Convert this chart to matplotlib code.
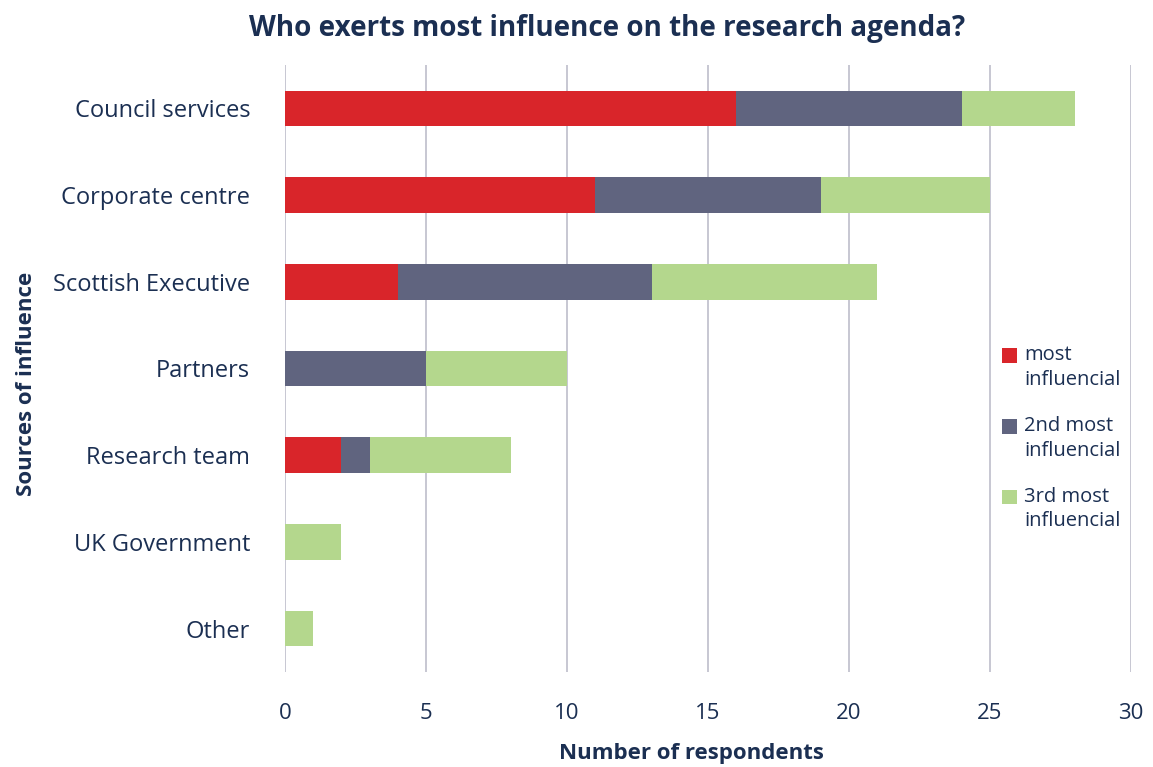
import matplotlib
matplotlib.use("Agg")
import matplotlib.pyplot as plt
from matplotlib.legend_handler import HandlerPatch
from matplotlib.patches import Rectangle
import numpy as np

fuentes = ["Council services", "Corporate centre", "Scottish Executive",
           "Partners", "Research team", "UK Government", "Other"]
mas_influyente = [16, 11, 4, 0, 2, 0, 0]
segundo = [8, 8, 9, 5, 1, 0, 0]
tercero = [4, 6, 8, 5, 5, 2, 1]
etiquetas = ["most\ninfluencial", "2nd most\ninfluencial", "3rd most\ninfluencial"]
ticks_x = [0, 5, 10, 15, 20, 25, 30]

azul = "#1b2f52"
colores = ["#d9252a", "#60647f", "#b4d78d"]

plt.rcParams["font.family"] = ["Open Sans", "DejaVu Sans"]


def cuadro_arriba(legend, orig_handle, xdescent, ydescent, width, height, fontsize):
    # el cuadro de la leyenda va a la altura de la primera linea del texto
    return Rectangle((-xdescent, -ydescent + 0.62 * fontsize), width, height)


fig = plt.figure(figsize=(11.53, 7.67), dpi=100)
ax = fig.add_axes([0.2472, 0.1239, 0.7337, 0.7914])

y = np.arange(len(fuentes))
izq = np.zeros(len(fuentes))
barras = []
for serie, color in zip([mas_influyente, segundo, tercero], colores):
    b = ax.barh(y, serie, left=izq, height=0.41, color=color, zorder=3)
    barras.append(b)
    izq = izq + np.array(serie)

ax.set_ylim(len(fuentes) - 0.5, -0.5)
ax.set_xlim(0, 30)
ax.set_xticks(ticks_x)
ax.set_yticks(y)
ax.set_yticklabels(fuentes)
ax.xaxis.grid(True, color="#c3c3cf", linewidth=1.3, zorder=0)
for s in ax.spines.values():
    s.set_visible(False)
ax.tick_params(axis="both", length=0, colors=azul)
ax.tick_params(axis="x", pad=22, labelsize=16)
ax.tick_params(axis="y", pad=25, labelsize=17)

ax.set_xlabel("Number of respondents", fontsize=16, fontweight="bold", color=azul)
ax.set_ylabel("Sources of influence", fontsize=16, fontweight="bold", color=azul)
ax.xaxis.set_label_coords(0.48, -0.117)
ax.yaxis.set_label_coords(-0.293, 0.4745)
fig.suptitle("Who exerts most influence on the research agenda?", x=0.5265,
             y=0.982, fontsize=20, fontweight="bold", color=azul)

leg = fig.legend([b[0] for b in barras], etiquetas, loc="upper left",
                 bbox_to_anchor=(0.8533, 0.5733), frameon=False, fontsize=14.5,
                 labelcolor=azul, handlelength=0.75, handleheight=0.75,
                 handletextpad=0.35, labelspacing=1.3,
                 handler_map={Rectangle: HandlerPatch(patch_func=cuadro_arriba)})
for t in leg.get_texts():
    t.set_linespacing(1.3)

fig.savefig("out.png", dpi=100, facecolor="white")
